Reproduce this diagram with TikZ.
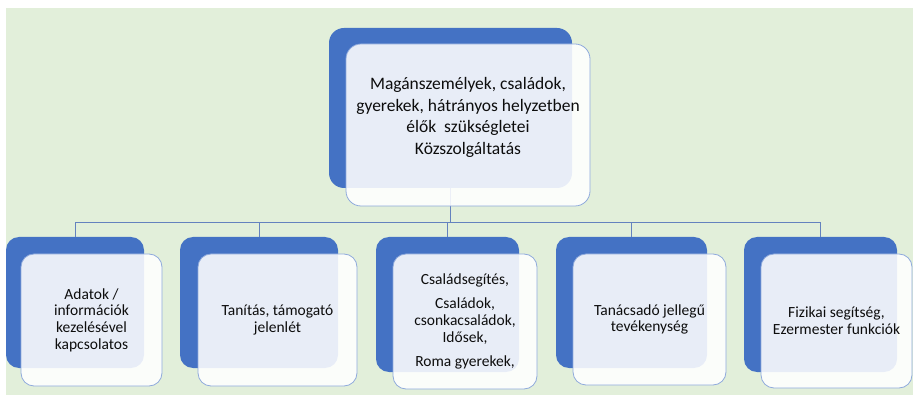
\documentclass[tikz,border=0pt]{standalone}
\usepackage{fontspec}
\setmainfont{Carlito}
\definecolor{bggreen}{HTML}{E2EFDA}
\definecolor{backblue}{HTML}{4472C4}
\definecolor{frontline}{HTML}{8FAADC}
\definecolor{connline}{HTML}{6482BE}
\definecolor{textdark}{HTML}{0D0D0D}

\begin{document}
\begin{tikzpicture}[x=1pt,y=-1pt]
                \useasboundingbox (0,0) rectangle (913,395);
                \fill[bggreen] (6,8) rectangle (913,395);
                \begin{scope}[every node/.style={fill=backblue,rounded corners=13pt,inner sep=0pt,outer sep=0pt}]
                    \node (K) [minimum width=243pt,minimum height=160pt,rounded corners=15pt] at (450.5,108) {};
                    \node (A) [minimum width=138pt,minimum height=131pt] at (75,302.5) {};
                    \node (B) [minimum width=158pt,minimum height=131pt] at (259,302.5) {};
                    \node (C) [minimum width=143pt,minimum height=135pt] at (447.5,304.5) {};
                    \node (D) [minimum width=151pt,minimum height=131pt] at (631.5,302.5) {};
                    \node (E) [minimum width=153pt,minimum height=135pt] at (820.5,304.5) {};
                \end{scope}
                \coordinate (M) at (450.5,222);
                \begin{scope}[every edge/.style={draw=connline,line width=0.8pt,to path={-| (\tikztotarget)}}]
                    \draw[connline,line width=0.8pt] (K) -- (M);
                    \draw (M) edge (A);
                    \draw (M) edge (B);
                    \draw (M) edge (C);
                    \draw (M) edge (D);
                    \draw (M) edge (E);
                \end{scope}
                \begin{scope}[every node/.style={draw=frontline,line width=0.8pt,fill=white,fill opacity=0.88,text opacity=1,rounded corners=13pt,inner sep=2pt,outer sep=0pt,align=center,text=textdark,font=\fontsize{15.5}{16.7}\selectfont}]
                    \node (K1) [minimum width=244pt,minimum height=162pt,rounded corners=15pt] at (468,125) {};
                    \node (A1) [minimum width=141pt,minimum height=132pt] at (91.5,320) {Adatok /\\ információk\\ kezelésével\\ kapcsolatos};
                    \node (B1) [minimum width=159pt,minimum height=132pt] at (277.5,320) {Tanítás, támogató\\ jelenlét};
                    \node (C1) [minimum width=144pt,minimum height=135pt] at (465,321.5) {Családsegítés,\\[8pt] Családok,\\ csonkacsaládok,\\ Idősek,\\[8pt] Roma gyerekek,};
                    \node (D1) [minimum width=153pt,minimum height=131pt] at (649.5,319.5) {Tanácsadó jellegű\\ tevékenység};
                    \node (E1) [minimum width=151pt,minimum height=134pt] at (836.5,321) {Fizikai segítség,\\ Ezermester funkciók};
                \end{scope}
                \node (KT) [align=center,text=textdark,font=\fontsize{17.5}{21.5}\selectfont] at (468,117.5) {Magánszemélyek, családok,\\ gyerekek, hátrányos helyzetben\\ élők~ szükségletei\\ Közszolgáltatás};
            \end{tikzpicture}
\end{document}
